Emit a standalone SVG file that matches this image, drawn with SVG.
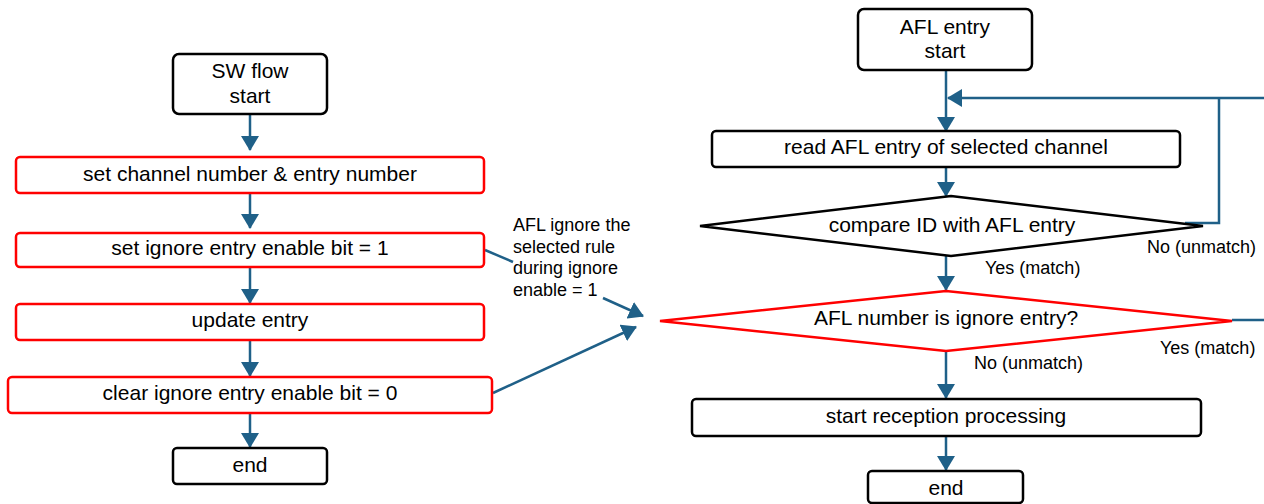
<svg xmlns="http://www.w3.org/2000/svg" width="1264" height="504" viewBox="0 0 1264 504">
<style>
.box{fill:#fff;stroke:#000;stroke-width:2.5}
.red{fill:#fff;stroke:#ff0000;stroke-width:2.5}
.t{font-family:"Liberation Sans",Arial,sans-serif;font-size:21px;fill:#000;text-anchor:middle}
.l{font-family:"Liberation Sans",Arial,sans-serif;font-size:18px;fill:#000}
.c{fill:none;stroke:#1f6088;stroke-width:2.5}
</style>
<defs>
<marker id="ah" viewBox="0 0 15 18" markerWidth="15" markerHeight="18" refX="14" refY="9" orient="auto" markerUnits="userSpaceOnUse">
<path d="M0,0 L15,9 L0,18 z" fill="#1f6088"/>
</marker>
</defs>
<rect width="1264" height="504" fill="#fff"/>
<g id="connectors">
<line class="c" x1="250" y1="114" x2="250" y2="150" marker-end="url(#ah)"/>
<line class="c" x1="250" y1="193" x2="250" y2="228" marker-end="url(#ah)"/>
<line class="c" x1="250" y1="267" x2="250" y2="303" marker-end="url(#ah)"/>
<line class="c" x1="250" y1="340" x2="250" y2="376" marker-end="url(#ah)"/>
<line class="c" x1="250" y1="413" x2="250" y2="447" marker-end="url(#ah)"/>
<line class="c" x1="485" y1="250" x2="513" y2="262"/>
<line class="c" x1="603" y1="298" x2="643" y2="316" marker-end="url(#ah)"/>
<line class="c" x1="493" y1="393" x2="636" y2="327" marker-end="url(#ah)"/>
<line class="c" x1="946" y1="70" x2="946" y2="131" marker-end="url(#ah)"/>
<polyline class="c" points="1232,320 1272,320 1272,98 948,98" marker-end="url(#ah)"/>
<polyline class="c" points="1185,223 1219,223 1219,98"/>
<line class="c" x1="946" y1="167" x2="946" y2="196" marker-end="url(#ah)"/>
<line class="c" x1="946" y1="256" x2="946" y2="290" marker-end="url(#ah)"/>
<line class="c" x1="946" y1="351" x2="946" y2="398" marker-end="url(#ah)"/>
<line class="c" x1="946" y1="436" x2="946" y2="470" marker-end="url(#ah)"/>
</g>
<g id="sw-start"><rect class="box" x="173" y="54" width="154" height="60" rx="6"/><text class="t" x="250" y="78">SW flow</text><text class="t" x="250" y="103">start</text></g>
<g id="set-channel"><rect class="red" x="16" y="157" width="468" height="36" rx="4"/><text class="t" x="250" y="181">set channel number &amp; entry number</text></g>
<g id="set-ignore"><rect class="red" x="16" y="233" width="468" height="34" rx="4"/><text class="t" x="250" y="255">set ignore entry enable bit = 1</text></g>
<g id="update-entry"><rect class="red" x="16" y="304" width="468" height="36" rx="4"/><text class="t" x="250" y="327">update entry</text></g>
<g id="clear-ignore"><rect class="red" x="8" y="377" width="484" height="36" rx="4"/><text class="t" x="250" y="400">clear ignore entry enable bit = 0</text></g>
<g id="sw-end"><rect class="box" x="173" y="448" width="154" height="36" rx="4"/><text class="t" x="250" y="472">end</text></g>
<g id="note"><text class="l" x="513" y="231">AFL ignore the</text><text class="l" x="513" y="253">selected rule</text><text class="l" x="513" y="274">during ignore</text><text class="l" x="513" y="296">enable = 1</text></g>
<g id="afl-start"><rect class="box" x="858" y="9" width="174" height="61" rx="6"/><text class="t" x="945" y="34">AFL entry</text><text class="t" x="945" y="58">start</text></g>
<g id="read-entry"><rect class="box" x="712" y="131" width="468" height="36" rx="4"/><text class="t" x="946" y="154">read AFL entry of selected channel</text></g>
<g id="compare"><polygon class="box" points="700,226 951,196 1203,226 951,256"/><text class="t" x="952" y="232">compare ID with AFL entry</text></g>
<text class="l" x="1147" y="253">No (unmatch)</text>
<text class="l" x="985" y="274">Yes (match)</text>
<g id="ignore-check"><polygon class="red" points="660,321 946,291 1232,321 946,351"/><text class="t" x="946" y="325">AFL number is ignore entry?</text></g>
<text class="l" x="1160" y="354">Yes (match)</text>
<text class="l" x="974" y="369">No (unmatch)</text>
<g id="reception"><rect class="box" x="692" y="399" width="509" height="37" rx="4"/><text class="t" x="946" y="423">start reception processing</text></g>
<g id="afl-end"><rect class="box" x="868" y="471" width="155" height="32" rx="4"/><text class="t" x="946" y="495">end</text></g>
</svg>
